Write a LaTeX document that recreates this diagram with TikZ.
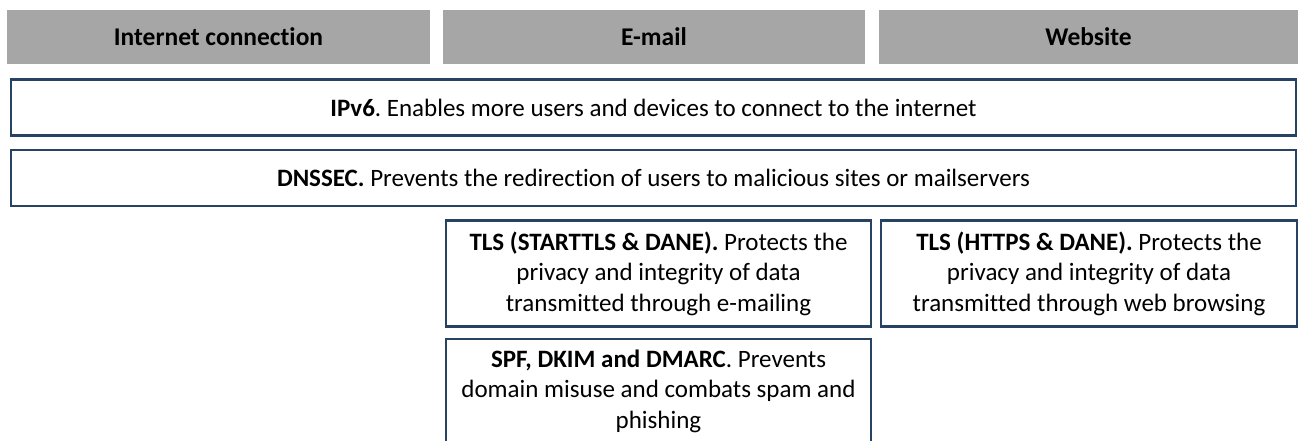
\documentclass[tikz,border=0pt]{standalone}
\usepackage{fontspec}
\setmainfont{Carlito}[Ligatures={NoCommon}]
\frenchspacing
\definecolor{hdrgray}{HTML}{A6A6A6}
\definecolor{boxblue}{HTML}{264363}
\begin{document}
\begin{tikzpicture}[x=1pt,y=-1pt,
  hdr/.style={fill=hdrgray,draw=none,minimum height=54pt,inner sep=0pt,font=\fontsize{25.5}{30}\selectfont\bfseries},
  bar/.style={draw=boxblue,line width=2.4pt,fill=white,minimum width=1285pt,minimum height=56pt,inner sep=0pt,font=\fontsize{25}{30}\selectfont},
  card/.style={draw=boxblue,line width=2.4pt,fill=white,minimum height=106pt,inner sep=0pt,align=center,font=\fontsize{25}{30.5}\selectfont}]
\useasboundingbox (0,0) rectangle (1298,441);
\node[hdr,minimum width=423pt] (h1) at (218.5,37) {Internet connection};
\node[hdr,minimum width=422pt] (h2) at (654,37) {E-mail};
\node[hdr,minimum width=419pt] (h3) at (1088.5,37) {Website};
\node[bar] (ipv6) at (653.5,107.5) {\textbf{IPv6}. Enables more users and devices to connect to the internet};
\node[bar] (dnssec) at (653.5,178) {\textbf{DNSSEC.} Prevents the redirection of users to malicious sites or mailservers};
\node[card,minimum width=425pt] (tlsmail) at (658.5,273.5) {\textbf{TLS (STARTTLS \& DANE).} Protects the\\privacy and integrity of data\\transmitted through e-mailing};
\node[card,minimum width=416pt] (tlsweb) at (1089,273.5) {\textbf{TLS (HTTPS \& DANE).} Protects the\\privacy and integrity of data\\transmitted through web browsing};
\node[card,minimum width=425pt,minimum height=104pt] (spf) at (658.5,391) {\textbf{SPF, DKIM and DMARC}. Prevents\\domain misuse and combats spam and\\phishing};
\end{tikzpicture}
\end{document}
